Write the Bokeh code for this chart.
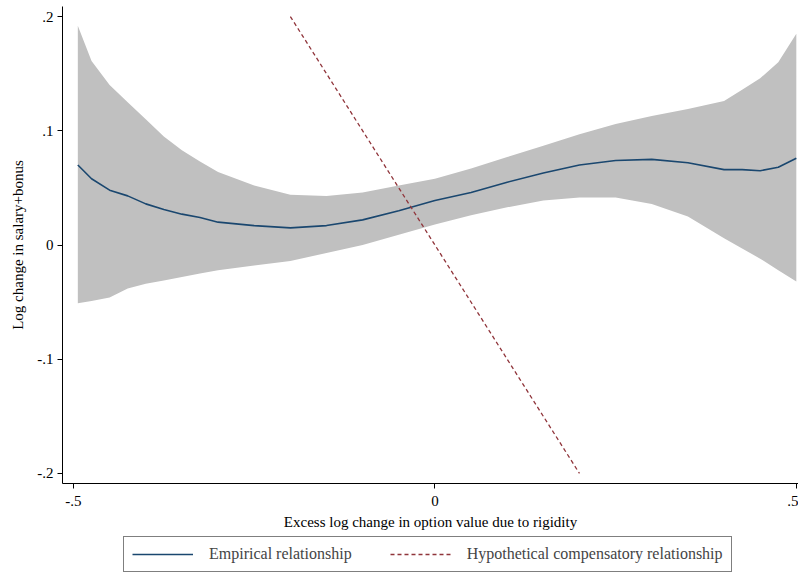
from bokeh.plotting import figure
from bokeh.models import Range1d, FixedTicker, Legend, LegendItem
from bokeh.layouts import column
from bokeh.embed import file_html
from bokeh.resources import INLINE

# Data
x_vals = [-0.494, -0.475, -0.45, -0.425, -0.4, -0.375, -0.35, -0.325, -0.3, -0.25, -0.2,
          -0.15, -0.1, -0.05, 0.0, 0.05, 0.1, 0.15, 0.2, 0.25, 0.3, 0.35, 0.4, 0.425,
          0.45, 0.475, 0.5]
fit_vals = [0.070, 0.058, 0.048, 0.043, 0.036, 0.031, 0.027, 0.024, 0.020, 0.017, 0.015,
            0.017, 0.022, 0.030, 0.039, 0.046, 0.055, 0.063, 0.070, 0.074, 0.075, 0.072,
            0.066, 0.066, 0.065, 0.068, 0.076]
ci_upper = [0.192, 0.161, 0.140, 0.125, 0.110, 0.095, 0.083, 0.073, 0.064, 0.052, 0.044,
            0.043, 0.046, 0.052, 0.058, 0.067, 0.077, 0.087, 0.097, 0.106, 0.113, 0.119,
            0.126, 0.136, 0.146, 0.160, 0.185]
ci_lower = [-0.051, -0.049, -0.046, -0.038, -0.034, -0.031, -0.028, -0.025, -0.022, -0.018,
            -0.014, -0.007, 0.000, 0.009, 0.018, 0.026, 0.033, 0.039, 0.0415, 0.0415, 0.036,
            0.025, 0.006, -0.003, -0.012, -0.022, -0.032]
hyp_x = [-0.2, 0.2]
hyp_y = [0.2, -0.2]

x_ticks = [-0.5, 0.0, 0.5]
x_tick_labels = ["-.5", "0", ".5"]
y_ticks = [-0.2, -0.1, 0.0, 0.1, 0.2]
y_tick_labels = ["-.2", "-.1", "0", ".1", ".2"]
legend_labels = ["Empirical relationship", "Hypothetical compensatory relationship"]

FONT = "Liberation Serif"
NAVY = "#1a476f"
MAROON = "#90353b"
GRAY = "#c0c0c0"

p = figure(width=798, height=533, output_backend="svg", toolbar_location=None,
           x_range=Range1d(-0.5152, 0.503), y_range=Range1d(-0.2088, 0.2088),
           min_border_left=62, min_border_right=0, min_border_top=6, min_border_bottom=50)
p.outline_line_color = None
p.xgrid.visible = False
p.ygrid.visible = False
p.background_fill_color = "white"
p.border_fill_color = "white"

band = p.varea(x=x_vals, y1=ci_lower, y2=ci_upper, fill_color=GRAY, fill_alpha=1.0)
fit = p.line(x=x_vals, y=fit_vals, line_color=NAVY, line_width=1.6)
hyp = p.line(x=hyp_x, y=hyp_y, line_color=MAROON, line_width=1.3, line_dash="4 3")

for ax in (p.xaxis[0], p.yaxis[0]):
    ax.axis_line_color = "black"
    ax.major_tick_line_color = "black"
    ax.minor_tick_line_color = None
    ax.major_tick_out = 5
    ax.major_tick_in = 0
    ax.major_label_text_font = FONT
    ax.major_label_text_font_size = "15px"
    ax.major_label_text_color = "black"
    ax.axis_label_text_font = FONT
    ax.axis_label_text_font_size = "15px"
    ax.axis_label_text_font_style = "normal"
    ax.axis_label_text_color = "black"

p.xaxis.ticker = FixedTicker(ticks=x_ticks)
p.xaxis.major_label_overrides = dict(zip(x_ticks, x_tick_labels))
p.yaxis.ticker = FixedTicker(ticks=y_ticks)
p.yaxis.major_label_overrides = dict(zip(y_ticks, y_tick_labels))
p.xaxis.axis_label = "Excess log change in option value due to rigidity"
p.yaxis.axis_label = "Log change in salary+bonus"
p.xaxis.major_label_standoff = 7
p.xaxis.axis_label_standoff = 5
p.yaxis.major_label_standoff = 4
p.yaxis.axis_label_standoff = 8

# Legend strip below the plot (key lines lie outside its visible range)
q = figure(width=798, height=40, output_backend="svg", toolbar_location=None,
           x_range=Range1d(0, 1), y_range=Range1d(0, 1),
           x_axis_location=None, y_axis_location=None,
           min_border_left=0, min_border_right=0, min_border_top=0, min_border_bottom=0)
q.outline_line_color = None
q.xgrid.visible = False
q.ygrid.visible = False
q.border_fill_color = "white"
k_fit = q.line(x=[5, 6], y=[5, 6], line_color=NAVY, line_width=1.6)
k_hyp = q.line(x=[5, 6], y=[5, 6], line_color=MAROON, line_width=1.3, line_dash="4 3")

legend = Legend(items=[LegendItem(label=legend_labels[0], renderers=[k_fit]),
                       LegendItem(label=legend_labels[1], renderers=[k_hyp])],
                orientation="horizontal", location=(61, 1),
                label_text_font=FONT, label_text_font_size="16px",
                glyph_width=61, glyph_height=16, label_standoff=16, spacing=38,
                padding=8, margin=0, border_line_color="black", border_line_width=1,
                background_fill_alpha=1.0)
q.add_layout(legend, "center")

layout = column(p, q, spacing=0)
open("out.html", "w").write(file_html(layout, INLINE))
